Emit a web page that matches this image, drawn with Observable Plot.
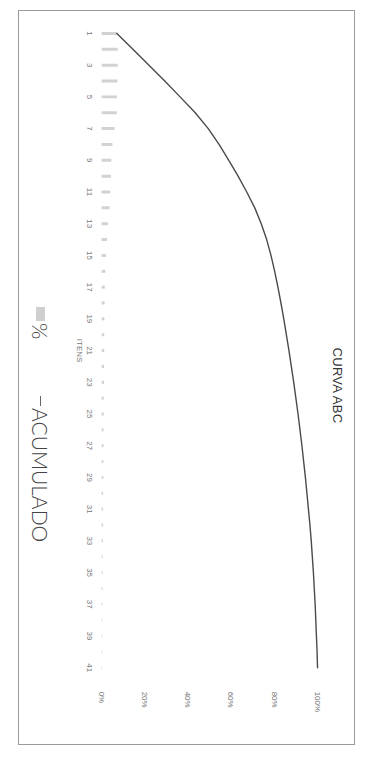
<!DOCTYPE html>
<html><head><meta charset="utf-8">
<script src="https://cdn.jsdelivr.net/npm/d3@7"></script>
<script src="https://cdn.jsdelivr.net/npm/@observablehq/plot@0.6"></script>
<style>
body{margin:0;background:#fff;width:366px;height:765px;overflow:hidden;position:relative;font-family:"Liberation Sans",Arial,sans-serif}
#box{position:absolute;left:0;top:0;width:735px;height:337px;transform-origin:0 0;transform:translate(355px,10px) rotate(90deg);border:1.5px solid #9a9a9a;box-sizing:border-box;background:#fff}
#title{height:30px;box-sizing:border-box;padding-top:8px;padding-left:16px;text-align:center;font-size:13px;line-height:18px;color:#333;letter-spacing:0.3px}
#chart svg{display:block}
#legend{position:relative;height:42px}
.lg{position:absolute;top:10px;display:flex;align-items:center;font-family:Lato,"Liberation Sans",sans-serif;font-size:21px;color:#444;font-weight:300}
.sw{display:inline-block;width:14px;height:9px;background:#cfcfcf;margin-right:2px}
.ln{display:inline-block;width:10px;height:0;border-top:1.5px solid #666;margin-right:2px}
</style></head>
<body>
<div id="box">
  <div id="title">CURVA ABC</div>
  <div id="chart"></div>
  <div id="legend">
    <div class="lg" style="left:296px"><span class="sw"></span><span>%</span></div>
    <div class="lg" style="left:385px"><span class="ln"></span><span>ACUMULADO</span></div>
  </div>
</div>
<script>
const items = [1,2,3,4,5,6,7,8,9,10,11,12,13,14,15,16,17,18,19,20,21,22,23,24,25,26,27,28,29,30,31,32,33,34,35,36,37,38,39,40,41];
const pct = [7.3,7.4,7.4,7.3,7.1,7.0,6.0,5.0,4.5,4.3,4.0,3.7,3.0,2.5,2.0,1.7,1.5,1.4,1.3,1.2,1.2,1.1,1.1,1.0,1.0,0.9,0.9,0.8,0.8,0.7,0.7,0.7,0.6,0.5,0.5,0.4,0.4,0.3,0.3,0.3,0.2];
const acumulado = [7.3,14.7,22.1,29.4,36.5,43.5,49.5,54.5,59.0,63.3,67.3,71.0,74.0,76.5,78.5,80.2,81.7,83.1,84.4,85.6,86.8,87.9,89.0,90.0,91.0,91.9,92.8,93.6,94.4,95.1,95.8,96.5,97.1,97.6,98.1,98.5,98.9,99.2,99.5,99.8,100];
const itemTicks = [1,3,5,7,9,11,13,15,17,19,21,23,25,27,29,31,33,35,37,39,41];
const pctTicks = [0,20,40,60,80,100];

const data = items.map((it, i) => ({item: it, pct: pct[i], acum: acumulado[i]}));

const chart = Plot.plot({
  width: 735,
  height: 262,
  marginTop: 6,
  marginBottom: 39,
  marginLeft: 22,
  marginRight: 77,
  style: {fontFamily: "'Liberation Sans', Arial, sans-serif", color: "#666", background: "transparent"},
  x: {type: "linear", domain: [1, 41]},
  y: {domain: [0, 100]},
  marks: [
    Plot.ruleX(data, {x: "item", y1: 0, y2: "pct", stroke: "#d2d2d2", strokeWidth: 3}),
    Plot.line(data, {x: "item", y: "acum", stroke: "#4a4a4a", strokeWidth: 1.4}),
    Plot.axisX({ticks: itemTicks, tickFormat: d => String(d), tickSize: 0, tickPadding: 8, fontSize: 8, fill: "#777",
      label: "ITENS", labelAnchor: "center", labelArrow: "none", labelOffset: 24}),
    Plot.axisY({anchor: "right", ticks: pctTicks, tickFormat: d => d + "%", tickSize: 0, tickPadding: 24, fontSize: 8, fill: "#777", label: null})
  ]
});
document.getElementById("chart").appendChild(chart);
</script>
</body></html>
